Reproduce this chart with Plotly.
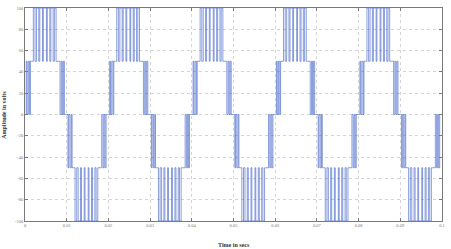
import plotly.graph_objects as go

# ---- data ----
# switching pattern of one half-cycle: time (ms from half-cycle start) and level magnitude (V)
half_t_ms = [0.00, 0.30, 0.50, 0.80, 1.10, 1.30, 1.60,
             2.00, 2.40, 2.75, 3.30, 3.55, 4.20, 4.40, 5.15, 5.35, 5.95,
             6.20, 6.75, 7.05, 7.45, 7.70,
             8.40, 8.70, 8.95, 9.20, 9.45, 9.60]
half_lvl = [0, 50, 0, 50, 0, 50, 50,
            100, 50, 100, 50, 100, 50, 100, 50, 100, 50,
            100, 50, 100, 50, 50,
            0, 50, 0, 50, 0, 0]
half_start_ms = [0, 10, 20, 30, 40, 50, 60, 70, 80, 90]
half_sign = [1, -1, 1, -1, 1, -1, 1, -1, 1, -1]

x_ticks = [0, 0.01, 0.02, 0.03, 0.04, 0.05, 0.06, 0.07, 0.08, 0.09, 0.1]
x_labels = ["0", "0.01", "0.02", "0.03", "0.04", "0.05", "0.06", "0.07", "0.08", "0.09", "0.1"]
y_ticks = [-100, -80, -60, -40, -20, 0, 20, 40, 60, 80, 100]
y_labels = ["-100", "-80", "-60", "-40", "-20", "0", "20", "40", "60", "80", "100"]

xs, ys = [], []
for st, sg in zip(half_start_ms, half_sign):
    for t, l in zip(half_t_ms, half_lvl):
        xs.append((st + t) / 1000.0)
        ys.append(sg * l)
xs.append(0.1)
ys.append(0)

fig = go.Figure()
fig.add_trace(go.Scatter(x=xs, y=ys, mode="lines", line=dict(color="#3a5cc4", width=0.6, shape="hv"),
                         hoverinfo="skip", showlegend=False))

tickfont = dict(family="Liberation Serif", size=4.5, color="#777777")
common = dict(showgrid=True, gridcolor="#d4d4d4", griddash="dot", gridwidth=0.5,
              showline=True, mirror="ticks", linecolor="#7a7a7a", linewidth=0.8,
              ticks="inside", ticklen=3, tickcolor="#7a7a7a", tickwidth=0.6,
              zeroline=False, tickfont=tickfont)
fig.update_xaxes(range=[0, 0.1], tickvals=x_ticks, ticktext=x_labels, **common)
fig.update_yaxes(range=[-100, 100], tickvals=y_ticks, ticktext=y_labels, **common)

fig.update_layout(
    width=451, height=249,
    margin=dict(l=25, r=6, t=7, b=28),
    paper_bgcolor="white", plot_bgcolor="white",
    annotations=[
        dict(text="<b>Time in secs</b>", xref="paper", yref="paper", x=0.5, y=-0.09,
             xanchor="center", yanchor="top", showarrow=False,
             font=dict(family="Liberation Serif", size=6, color="#333333")),
        dict(text="<b>Amplitude in volts</b>", xref="paper", yref="paper", x=-0.04, y=0.5,
             xanchor="right", yanchor="middle", textangle=-90, showarrow=False,
             font=dict(family="Liberation Serif", size=6, color="#333333")),
    ],
)
fig.write_html("out.html")
